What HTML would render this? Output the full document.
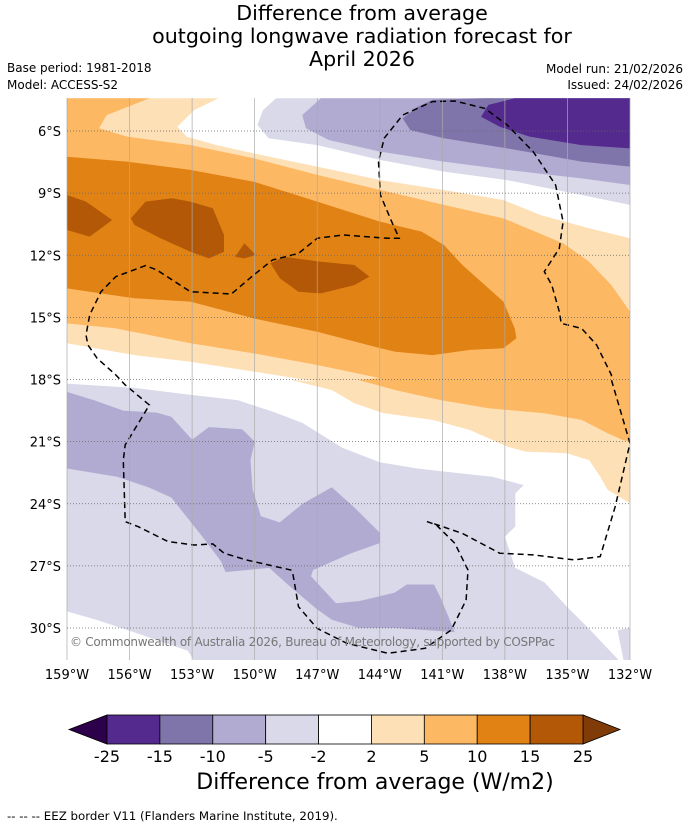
<!DOCTYPE html>
<html><head><meta charset="utf-8"><style>
body{margin:0;background:#fff;}
svg{display:block;font-family:"DejaVu Sans","Liberation Sans",sans-serif;}
</style></head><body>
<svg id="chart" width="690" height="827" viewBox="0 0 690 827">
<defs><clipPath id="mapclip"><rect x="67" y="98" width="563" height="562"/></clipPath></defs>
<g font-size="20.6" text-anchor="middle" fill="#000">
<text x="362" y="20">Difference from average</text>
<text x="362" y="43">outgoing longwave radiation forecast for</text>
<text x="362" y="66">April 2026</text>
</g>
<text x="7" y="72" font-size="12">Base period: 1981-2018</text>
<text x="7" y="89" font-size="12">Model: ACCESS-S2</text>
<text x="683" y="73" font-size="12" text-anchor="end">Model run: 21/02/2026</text>
<text x="683" y="89" font-size="12" text-anchor="end">Issued: 24/02/2026</text>
<g id="map" clip-path="url(#mapclip)"></g>
<g id="grid"></g>
<g id="axes"></g>
<text x="70" y="646" font-size="12" fill="#777" textLength="485">© Commonwealth of Australia 2026, Bureau of Meteorology, supported by COSPPac</text>
<g id="cbar"></g>
<text x="375" y="789" font-size="22" text-anchor="middle">Difference from average (W/m2)</text>
<text x="7" y="820" font-size="11.8">--  --  -- EEZ border V11 (Flanders Marine Institute, 2019).</text>
</svg>
<script>
const lonTicks=[-159,-156,-153,-150,-147,-144,-141,-138,-135,-132];
const latTicks=[-6,-9,-12,-15,-18,-21,-24,-27,-30];
const levels=[-25,-15,-10,-5,-2,2,5,10,15,25];
const levelColors=["#552a8f","#8075ab","#b1abd2","#d9d9ea","#ffffff","#fee0b6","#fdb863","#e08214","#b35806"];
const lpTop=[[-148.97,-4.42],[-132,-4.42],[-132,-9.57],[-134.32,-9.09],[-137.89,-8.37],[-140.93,-7.96],[-143.97,-7.40],[-147.00,-6.68],[-149.33,-6.35],[-149.87,-5.71],[-149.60,-4.99]];
const mpTop=[[-146.83,-4.42],[-132,-4.42],[-132,-8.61],[-134.32,-8.29],[-137.89,-7.88],[-140.93,-7.48],[-143.97,-7.00],[-146.47,-6.43],[-147.54,-5.87],[-147.72,-5.23]];
const dpTop=[[-141.47,-4.50],[-139,-4.42],[-132,-4.42],[-132,-7.72],[-134.32,-7.48],[-137.89,-6.84],[-140.93,-6.35],[-142.54,-5.95],[-142.90,-5.39],[-142.18,-4.83]];
const vdTop=[[-138.79,-4.74],[-137.53,-4.42],[-132,-4.42],[-132,-6.84],[-134.32,-6.68],[-136.82,-6.27],[-138.25,-5.79],[-139.14,-5.31]];
const lpLow=[[-159,-18.2],[-155.8,-18.4],[-153.4,-18.7],[-150.8,-19.0],[-149.0,-19.6],[-147.7,-20.1],[-145.8,-21.3],[-144.0,-22.0],[-142.2,-22.3],[-140.4,-22.5],[-138.6,-22.7],[-137.1,-23.1],[-137.5,-23.5],[-137.5,-25.1],[-138.0,-25.6],[-137.5,-27.1],[-136.1,-27.8],[-135.0,-29.0],[-134.0,-30.0],[-132.5,-31.6],[-152.9,-31.6],[-153.2,-31.1],[-155.8,-30.2],[-157.6,-29.6],[-159,-29.2]];
const lpPatch=[[-132.6,-30.1],[-132,-30.0],[-132,-31.6],[-132.3,-31.6]];
const mpLow=[[-159,-18.6],[-157.7,-19.0],[-156.3,-19.5],[-154.7,-19.6],[-154.0,-19.8],[-153.0,-20.9],[-152.2,-20.3],[-150.6,-20.4],[-150.0,-21.0],[-150.2,-21.9],[-150.1,-23.3],[-149.7,-24.6],[-148.8,-24.9],[-147.7,-24.0],[-146.3,-23.2],[-145.2,-24.2],[-144.0,-25.4],[-144.0,-25.9],[-145.4,-26.4],[-147.2,-27.2],[-147.3,-27.5],[-146.1,-28.8],[-145.0,-28.7],[-143.3,-28.3],[-142.7,-27.9],[-141.4,-27.9],[-141.1,-28.5],[-140.4,-30.2],[-143.3,-30.0],[-145.0,-30.0],[-146.3,-29.6],[-147.0,-29.1],[-148.3,-28.0],[-149.3,-27.1],[-151.4,-27.3],[-151.6,-26.8],[-152.5,-25.6],[-154.0,-23.7],[-155.1,-23.2],[-156.6,-22.7],[-159,-22.3]];
const lo=[[-159,-4.42],[-151.74,-4.42],[-152.90,-4.99],[-153.71,-5.79],[-153.26,-6.27],[-151.83,-6.68],[-150.04,-7.08],[-147.00,-7.72],[-143.97,-8.37],[-140.93,-8.85],[-138.07,-9.33],[-136.28,-10.06],[-133.96,-10.70],[-132,-11.18],[-132,-23.98],[-133.07,-23.33],[-133.43,-22.69],[-133.96,-21.89],[-135.03,-21.56],[-137.0,-21.48],[-137.89,-21.24],[-139.68,-20.44],[-141.47,-19.95],[-143.79,-19.63],[-145.22,-19.15],[-146.29,-18.51],[-148.26,-18.02],[-147.00,-18.10],[-150.04,-17.62],[-153.08,-17.14],[-155.76,-16.82],[-159,-16.25]];
const o1=[[-159,-4.42],[-155.05,-4.42],[-157.10,-5.23],[-157.46,-5.87],[-156.12,-6.27],[-153.08,-6.68],[-150.04,-7.32],[-147.00,-8.12],[-143.97,-8.85],[-140.93,-9.57],[-138.07,-10.22],[-135.21,-11.42],[-133.96,-12.31],[-132.89,-13.44],[-132,-14.72],[-132,-21.0],[-132.35,-20.92],[-133.07,-20.60],[-134.32,-19.95],[-136.11,-19.63],[-138.79,-19.39],[-141.11,-18.99],[-143.25,-18.51],[-145.04,-18.02],[-143.97,-17.94],[-147.00,-17.30],[-150.04,-16.74],[-153.08,-16.25],[-156.66,-15.53],[-159,-15.29]];
const o2=[[-159,-7.24],[-156.12,-7.48],[-153.08,-7.88],[-150.04,-8.45],[-147.00,-9.41],[-143.97,-10.38],[-142.00,-10.86],[-140.93,-11.50],[-140.04,-12.47],[-138.07,-14.24],[-137.53,-15.53],[-137.45,-16.01],[-138.07,-16.49],[-139.68,-16.57],[-141.47,-16.82],[-143.25,-16.66],[-143.97,-16.49],[-147.00,-15.69],[-150.04,-15.05],[-153.08,-14.24],[-155.76,-14.08],[-159,-13.60]];
const o3a=[[-159,-9.09],[-158.09,-9.41],[-156.83,-10.30],[-157.91,-11.10],[-159,-10.78]];
const o3b=[[-155.94,-10.22],[-155.23,-9.41],[-153.97,-9.25],[-153.08,-9.41],[-152.01,-9.73],[-151.47,-11.02],[-151.47,-11.83],[-152.19,-12.15],[-153.08,-11.83],[-154.51,-11.18],[-155.76,-10.54]];
const o3c=[[-150.94,-12.07],[-150.49,-11.42],[-149.95,-11.99],[-150.49,-12.15]];
const o3d=[[-149.24,-12.39],[-148.61,-12.07],[-146.83,-12.31],[-145.22,-12.47],[-144.50,-13.03],[-145.22,-13.44],[-146.83,-13.84],[-147.90,-13.76],[-148.79,-13.12]];
const eez=[[-141.74,-24.86],[-141.29,-25.02],[-140.40,-25.91],[-139.77,-27.20],[-139.86,-28.65],[-140.57,-30.09],[-141.82,-30.98],[-143.61,-31.22],[-145.58,-30.74],[-147.00,-30.02],[-147.90,-28.97],[-148.17,-27.36],[-148.26,-27.20],[-150.40,-26.71],[-151.47,-26.39],[-152.01,-25.94],[-152.90,-25.99],[-154.15,-25.83],[-155.58,-25.11],[-156.21,-24.86],[-156.30,-21.89],[-156.21,-21.16],[-155.05,-19.23],[-156.21,-18.26],[-156.66,-17.78],[-157.55,-16.98],[-158.00,-16.33],[-158.09,-15.85],[-157.91,-14.88],[-157.37,-13.76],[-156.66,-13.03],[-155.23,-12.50],[-154.69,-12.71],[-153.08,-13.76],[-151.12,-13.87],[-150.04,-12.95],[-149.15,-12.23],[-147.90,-11.91],[-147.00,-11.18],[-145.75,-11.02],[-143.61,-11.18],[-143.07,-11.18],[-143.43,-10.38],[-143.97,-9.09],[-144.06,-7.48],[-143.79,-6.35],[-142.90,-5.23],[-141.47,-4.58],[-140.40,-4.55],[-138.96,-4.91],[-137.89,-5.71],[-136.64,-7.00],[-135.57,-8.61],[-135.21,-10.38],[-135.39,-11.67],[-136.11,-12.79],[-135.75,-13.44],[-135.39,-14.72],[-135.30,-15.29],[-134.32,-15.53],[-133.60,-16.33],[-132.89,-17.78],[-132.89,-18.02],[-132.0,-21.08],[-132.71,-24.14],[-133.43,-26.55],[-134.68,-26.71],[-136.64,-26.47],[-138.25,-26.39],[-140.04,-25.43],[-141.47,-24.94]];

const NS="http://www.w3.org/2000/svg";
const X0=67,X1=630,LON0=-159,LON1=-132;
const Y0=131,Y1=628,LAT0=-6,LAT1=-30;
function xs(lon){return X0+(lon-LON0)/(LON1-LON0)*(X1-X0);}
function ys(lat){return Y0+(lat-LAT0)/(LAT1-LAT0)*(Y1-Y0);}
function pts(a){return a.map(p=>xs(p[0]).toFixed(1)+","+ys(p[1]).toFixed(1)).join(" ");}
const map=document.getElementById("map");
const bg=document.createElementNS(NS,"rect");
bg.setAttribute("x",67);bg.setAttribute("y",98);bg.setAttribute("width",563);bg.setAttribute("height",562);bg.setAttribute("fill","#fff");


map.appendChild(bg);
const layers=[[lpTop,3,"contour-top-minus5"],[mpTop,2,"contour-top-minus10"],[dpTop,1,"contour-top-minus15"],[vdTop,0,"contour-top-minus25"],
[lpLow,3,"contour-south-minus5"],[lpPatch,3,"contour-southeast-minus5"],[mpLow,2,"contour-south-minus10"],
[lo,5,"contour-plus2"],[o1,6,"contour-plus5"],[o2,7,"contour-plus10"],[o3a,8,"contour-plus15-a"],[o3b,8,"contour-plus15-b"],[o3c,8,"contour-plus15-c"],[o3d,8,"contour-plus15-d"]];
layers.forEach(L=>{
  const p=document.createElementNS(NS,"polygon");
  p.setAttribute("points",pts(L[0]));p.setAttribute("fill",levelColors[L[1]]);
  
  
  map.appendChild(p);
});
const e=document.createElementNS(NS,"polyline");
e.setAttribute("points",pts(eez));e.setAttribute("fill","none");e.setAttribute("stroke","#000");e.setAttribute("stroke-width","1.5");e.setAttribute("stroke-dasharray","6,4");


map.appendChild(e);
const grid=document.getElementById("grid"),axes=document.getElementById("axes");
lonTicks.forEach(l=>{
  const ln=document.createElementNS(NS,"line");
  ln.setAttribute("x1",xs(l));ln.setAttribute("x2",xs(l));ln.setAttribute("y1",98);ln.setAttribute("y2",660);
  ln.setAttribute("stroke","#aaa");ln.setAttribute("stroke-width","0.7");
  
  
  grid.appendChild(ln);
  const t=document.createElementNS(NS,"text");
  t.setAttribute("x",xs(l));t.setAttribute("y",679);t.setAttribute("font-size","13");t.setAttribute("text-anchor","middle");
  t.textContent=Math.abs(l)+"°W";
  
  
  axes.appendChild(t);
});
latTicks.forEach(l=>{
  const ln=document.createElementNS(NS,"line");
  ln.setAttribute("x1",67);ln.setAttribute("x2",630);ln.setAttribute("y1",ys(l));ln.setAttribute("y2",ys(l));
  ln.setAttribute("stroke","#666");ln.setAttribute("stroke-width","0.8");ln.setAttribute("stroke-dasharray","1,2");
  
  
  grid.appendChild(ln);
  const t=document.createElementNS(NS,"text");
  t.setAttribute("x",61);t.setAttribute("y",ys(l)+5);t.setAttribute("font-size","13");t.setAttribute("text-anchor","end");
  t.textContent=Math.abs(l)+"°S";
  
  
  axes.appendChild(t);
});
const cb=document.getElementById("cbar");
const CB0=107,CB1=583,CBY=715,CBH=29,n=levelColors.length,w=(CB1-CB0)/n;
const tl=document.createElementNS(NS,"polygon");
tl.setAttribute("points",`69,${CBY+CBH/2} ${CB0},${CBY} ${CB0},${CBY+CBH}`);tl.setAttribute("fill","#2d004b");tl.setAttribute("stroke","#000");tl.setAttribute("stroke-width","0.8");


cb.appendChild(tl);
const tr=document.createElementNS(NS,"polygon");
tr.setAttribute("points",`620,${CBY+CBH/2} ${CB1},${CBY} ${CB1},${CBY+CBH}`);tr.setAttribute("fill","#7f3b08");tr.setAttribute("stroke","#000");tr.setAttribute("stroke-width","0.8");


cb.appendChild(tr);
levelColors.forEach((c,i)=>{
  const r=document.createElementNS(NS,"rect");
  r.setAttribute("x",CB0+i*w);r.setAttribute("y",CBY);r.setAttribute("width",w);r.setAttribute("height",CBH);
  r.setAttribute("fill",c);r.setAttribute("stroke","#000");r.setAttribute("stroke-width","0.8");
  
  
  cb.appendChild(r);
});
levels.forEach((v,i)=>{
  const t=document.createElementNS(NS,"text");
  t.setAttribute("x",CB0+i*w);t.setAttribute("y",762);t.setAttribute("font-size","16");t.setAttribute("text-anchor","middle");
  t.textContent=v;
  
  
  cb.appendChild(t);
});
</script>
</body></html>
